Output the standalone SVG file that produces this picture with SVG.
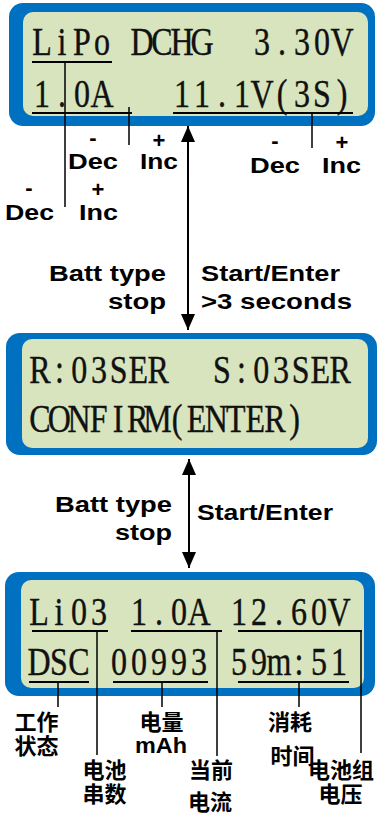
<svg xmlns="http://www.w3.org/2000/svg" width="377" height="814" viewBox="0 0 377 814">
<style>
.outer{fill:#0070C0}
.inner{fill:#D7E4BD}
.lcd{font-family:"Liberation Serif",serif;font-size:40px;fill:#111;text-anchor:middle;stroke:#111;stroke-width:0.4}
.lbl{font-family:"Liberation Sans",Arial,sans-serif;font-weight:bold;font-size:22px;fill:#000}
.sym{font-family:"Liberation Sans",Arial,sans-serif;font-weight:bold;font-size:22px;fill:#000;text-anchor:middle}
.cn{font-family:"Noto Sans CJK SC","Noto Sans CJK TC",sans-serif;font-weight:bold;font-size:22px;fill:#000;text-anchor:middle}
.ul{stroke:#000;stroke-width:2;fill:none}
.ld{stroke:#000;stroke-width:1.5;fill:none}
.arr{stroke:#000;stroke-width:2;fill:none;marker-start:url(#ah);marker-end:url(#ah)}
</style>
<defs>
<marker id="ah" viewBox="0 0 16 14" refX="16" refY="7" markerWidth="16" markerHeight="14" markerUnits="userSpaceOnUse" orient="auto-start-reverse"><path d="M0,0 L16,7 L0,14 z" fill="#000"/></marker>
</defs>

<g id="panel1">
<rect class="outer" x="9" y="3" width="366" height="123" rx="14"/>
<rect class="inner" x="23" y="12" width="345" height="104" rx="10"/>
<text class="lcd" transform="translate(32,55) scale(0.8,1)" x="12.5 37.5 62.5 87.5 112.5 137.5 162.5 187.5 212.5 262.5 287.5 312.5 337.5 362.5 387.5" y="0">LiPo DCHG 3.30V</text>
<text class="lcd" transform="translate(32,107) scale(0.8,1)" x="12.5 37.5 62.5 87.5 137.5 187.5 212.5 237.5 262.5 287.5 312.5 337.5 362.5 387.5" y="0">1.0A 11.1V(3S)</text>
</g>

<g id="panel2">
<rect class="outer" x="6" y="333" width="371" height="122" rx="14"/>
<rect class="inner" x="22" y="339" width="346" height="109" rx="10"/>
<text class="lcd" transform="translate(30,383) scale(0.8,1)" x="12.3 36.9 61.6 86.2 110.8 135.4 160.1 190 239.8 264.4 289.1 313.7 338.3 362.9 387.6" y="0">R:03SER S:03SER</text>
<text class="lcd" transform="translate(30,432) scale(0.8,1)" x="12.25 36.75 61.25 85.75 110.25 134.75 159.25 183.75 208.25 232.75 257.25 281.75 306.25 330.75" y="0">CONFIRM(ENTER)</text>
</g>

<g id="panel3">
<rect class="outer" x="5" y="572" width="370" height="124" rx="14"/>
<rect class="inner" x="21" y="580" width="343" height="108" rx="10"/>
<text class="lcd" transform="translate(29,625) scale(0.8,1)" x="12.5 37.5 62.5 87.5 112.5 137.5 162.5 187.5 212.5 237.5 262.5 287.5 312.5 337.5 362.5 387.5" y="0">Li03 1.0A 12.60V</text>
<text class="lcd" transform="translate(29,675) scale(0.8,1)" x="12.5 37.5 62.5 87.5 112.5 137.5 162.5 187.5 212.5 237.5 262.5 287.5 312.5 337.5 362.5 387.5" y="0">DSC 00993 59m:51</text>
</g>

<g id="connectors">
<path class="ul" d="M32,62H112 M32,113H132 M173,113H353"/>
<path class="ld" d="M65,62V207 M129,107V145 M312,113V148"/>
<path class="ul" d="M32,631H108 M131,631H222 M238,631H362 M29,682H89 M113,682H208 M238,682H349"/>
<path class="ld" d="M97,631V755 M217,631V756 M361,631V753 M58,682V707 M162,682V707 M299,682V707"/>
<path class="arr" d="M188,126V330"/>
<path class="arr" d="M189,459V568"/>
</g>

<g id="labels-panel1">
<text class="sym" x="93" y="145">-</text>
<text class="lbl" x="68" y="169" textLength="50" lengthAdjust="spacingAndGlyphs">Dec</text>
<text class="sym" x="159" y="148">+</text>
<text class="lbl" x="140" y="169" textLength="38" lengthAdjust="spacingAndGlyphs">Inc</text>
<text class="sym" x="275" y="148">-</text>
<text class="lbl" x="250" y="173" textLength="50" lengthAdjust="spacingAndGlyphs">Dec</text>
<text class="sym" x="342" y="150">+</text>
<text class="lbl" x="322" y="173" textLength="39" lengthAdjust="spacingAndGlyphs">Inc</text>
<text class="sym" x="29" y="195">-</text>
<text class="lbl" x="5" y="220" textLength="49" lengthAdjust="spacingAndGlyphs">Dec</text>
<text class="sym" x="98" y="197">+</text>
<text class="lbl" x="79" y="220" textLength="39" lengthAdjust="spacingAndGlyphs">Inc</text>
</g>

<g id="labels-arrow1">
<text class="lbl" x="49" y="281" textLength="117" lengthAdjust="spacingAndGlyphs">Batt type</text>
<text class="lbl" x="108" y="309" textLength="58" lengthAdjust="spacingAndGlyphs">stop</text>
<text class="lbl" x="201" y="281" textLength="139" lengthAdjust="spacingAndGlyphs">Start/Enter</text>
<text class="lbl" x="201" y="309" textLength="151" lengthAdjust="spacingAndGlyphs">&gt;3 seconds</text>
</g>

<g id="labels-arrow2">
<text class="lbl" x="55" y="512" textLength="117" lengthAdjust="spacingAndGlyphs">Batt type</text>
<text class="lbl" x="115" y="540" textLength="57" lengthAdjust="spacingAndGlyphs">stop</text>
<text class="lbl" x="197" y="520" textLength="136" lengthAdjust="spacingAndGlyphs">Start/Enter</text>
</g>

<g id="labels-panel3">
<text class="cn" x="36.5" y="730">工作</text>
<text class="cn" x="36.5" y="754">状态</text>
<text class="cn" x="161.5" y="730">电量</text>
<text class="lbl" x="135" y="753" textLength="52" lengthAdjust="spacingAndGlyphs">mAh</text>
<text class="cn" x="290" y="730">消耗</text>
<text class="cn" x="292.5" y="764">时间</text>
<text class="cn" x="104.5" y="778">电池</text>
<text class="cn" x="104.5" y="802">串数</text>
<text class="cn" x="211" y="778">当前</text>
<text class="cn" x="210" y="810">电流</text>
<text class="cn" x="341" y="778">电池组</text>
<text class="cn" x="340.5" y="802">电压</text>
</g>
</svg>
